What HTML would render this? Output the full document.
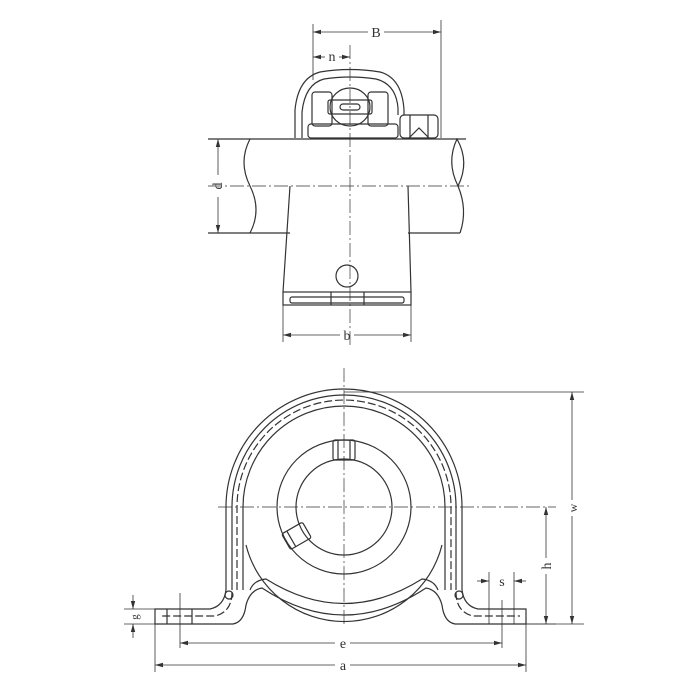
<!DOCTYPE html>
<html><head><meta charset="utf-8"><style>
html,body{margin:0;padding:0;background:#fff;}
svg{display:block;}
text{font-family:"Liberation Serif",serif;fill:#333;}
</style></head><body>
<svg width="700" height="700" viewBox="0 0 700 700" xmlns="http://www.w3.org/2000/svg">
<defs>
<marker id="a" markerWidth="8" markerHeight="6" refX="8" refY="3" orient="auto-start-reverse" markerUnits="userSpaceOnUse"><path d="M0,0.8 L8,3 L0,5.2 Z" fill="#333"/></marker>
</defs>
<g fill="none" stroke="#333" stroke-width="1.2">
<!-- TOP VIEW -->
<line x1="313" y1="24" x2="313" y2="80" stroke-width="0.8"/>
<line x1="441" y1="20" x2="441" y2="138" stroke-width="0.8"/>
<line x1="313" y1="32" x2="368" y2="32" stroke-width="0.8" marker-start="url(#a)"/>
<line x1="384" y1="32" x2="441" y2="32" stroke-width="0.8" marker-end="url(#a)"/>
<line x1="313" y1="57" x2="325" y2="57" stroke-width="0.8" marker-start="url(#a)"/>
<line x1="339" y1="57" x2="350" y2="57" stroke-width="0.8" marker-end="url(#a)"/>
<line x1="350" y1="45" x2="350" y2="345" stroke-width="0.7" stroke-dasharray="14,3,2,3"/>
<path d="M295,138 L295,110 Q298,78 320,72 Q350,67 380,72 Q402,78 404,110 L404,115"/>
<path d="M302,138 L302,112 Q305,84 324,79 Q350,75 376,79 Q396,84 398,108 L398,115"/>
<rect x="312" y="92" width="20" height="34" rx="3"/>
<rect x="368" y="92" width="20" height="34" rx="3"/>
<rect x="308" y="124" width="90" height="14" rx="3"/>
<ellipse cx="350" cy="107" rx="20" ry="19"/>
<rect x="328" y="100" width="44" height="14" rx="2"/>
<rect x="340" y="104" width="20" height="6" rx="3"/>
<rect x="400" y="115" width="38" height="23" rx="4"/>
<line x1="410" y1="115" x2="410" y2="138"/><line x1="428" y1="115" x2="428" y2="138"/>
<path d="M409,138 L419,128 L429,138"/>
<line x1="208" y1="139" x2="466" y2="139"/>
<line x1="208" y1="233" x2="290" y2="233"/>
<line x1="408" y1="233" x2="460" y2="233"/>
<path d="M250,139 Q238,162 250,186 Q262,210 250,233"/>
<path d="M457,139 Q470,162 458,186 Q446,162 457,139 Z"/>
<path d="M458,186 Q468,210 460,233"/>
<line x1="208" y1="186" x2="470" y2="186" stroke-width="0.7" stroke-dasharray="14,3,2,3"/>
<line x1="218" y1="139" x2="218" y2="175" stroke-width="0.8" marker-start="url(#a)"/>
<line x1="218" y1="197" x2="218" y2="233" stroke-width="0.8" marker-end="url(#a)"/>
<path d="M290,186 L283,292 M408,186 L411,292"/>
<rect x="283" y="292" width="128" height="13"/>
<rect x="290" y="297" width="114" height="6" rx="2"/>
<line x1="331" y1="292" x2="331" y2="305"/><line x1="364" y1="292" x2="364" y2="305"/>
<circle cx="347" cy="276" r="11"/>
<line x1="283" y1="305" x2="283" y2="342" stroke-width="0.8"/>
<line x1="411" y1="305" x2="411" y2="342" stroke-width="0.8"/>
<line x1="283" y1="335" x2="340" y2="335" stroke-width="0.8" marker-start="url(#a)"/>
<line x1="354" y1="335" x2="411" y2="335" stroke-width="0.8" marker-end="url(#a)"/>

<!-- BOTTOM VIEW -->
<line x1="344" y1="368" x2="344" y2="625" stroke-width="0.7" stroke-dasharray="14,3,2,3"/>
<line x1="218" y1="507" x2="556" y2="507" stroke-width="0.7" stroke-dasharray="14,3,2,3"/>
<path d="M226,590 L226,507 A118,118 0 0 1 462,507 L462,590"/>
<path d="M232,590 L232,507 A112,112 0 0 1 456,507 L456,590"/>
<path d="M237,590 L237,507 A107,107 0 0 1 451,507 L451,590" stroke-dasharray="8,3"/>
<path d="M243,590 L243,507 A101,101 0 0 1 445,507 L445,590"/>
<path d="M246,545 A101,101 0 0 0 442,545"/>
<circle cx="344" cy="507" r="67"/>
<circle cx="344" cy="507" r="48"/>
<rect x="333" y="440" width="22" height="20" rx="2"/>
<line x1="338" y1="440" x2="338" y2="460"/><line x1="350" y1="440" x2="350" y2="460"/>
<g transform="rotate(-30 296 535)"><rect x="284" y="527" width="24" height="18" rx="2"/><line x1="290" y1="527" x2="290" y2="545"/></g>
<path d="M226,590 Q224,606 210,609 L155,609 L155,624 L233,624 Q244,622 246,605 Q250,590 262,588 Q344,642 426,588 Q438,590 442,605 Q444,622 455,624 L526,624 L526,609 L478,609 Q464,606 462,590"/>
<path d="M232,592 Q232,612 215,616 L160,616" stroke-dasharray="8,3"/>
<path d="M456,592 Q456,612 473,616 L520,616" stroke-dasharray="8,3"/>
<path d="M250,590 Q254,580 266,579 Q344,628 422,579 Q434,580 438,590"/>
<circle cx="229" cy="595" r="4"/><circle cx="459" cy="595" r="4"/>
<line x1="180" y1="593" x2="180" y2="648" stroke-width="0.8"/>
<line x1="502" y1="600" x2="502" y2="648" stroke-width="0.8"/>
<line x1="167" y1="609" x2="167" y2="624"/><line x1="192" y1="609" x2="192" y2="624"/>
<line x1="489" y1="572" x2="489" y2="624" stroke-width="0.8"/>
<line x1="514" y1="572" x2="514" y2="624" stroke-width="0.8"/>
<line x1="477" y1="581" x2="489" y2="581" stroke-width="0.8" marker-end="url(#a)"/>
<line x1="526" y1="581" x2="514" y2="581" stroke-width="0.8" marker-end="url(#a)"/>
<line x1="526" y1="624" x2="556" y2="624" stroke-width="0.8"/>
<line x1="344" y1="392" x2="584" y2="392" stroke-width="0.8"/>
<line x1="526" y1="624" x2="584" y2="624" stroke-width="0.8"/>
<line x1="572" y1="392" x2="572" y2="500" stroke-width="0.8" marker-start="url(#a)"/>
<line x1="572" y1="516" x2="572" y2="624" stroke-width="0.8" marker-end="url(#a)"/>
<line x1="546" y1="507" x2="546" y2="558" stroke-width="0.8" marker-start="url(#a)"/>
<line x1="546" y1="574" x2="546" y2="624" stroke-width="0.8" marker-end="url(#a)"/>
<line x1="124" y1="609" x2="155" y2="609" stroke-width="0.8"/>
<line x1="124" y1="624" x2="155" y2="624" stroke-width="0.8"/>
<line x1="133" y1="595" x2="133" y2="609" stroke-width="0.8" marker-end="url(#a)"/>
<line x1="133" y1="638" x2="133" y2="624" stroke-width="0.8" marker-end="url(#a)"/>
<line x1="155" y1="624" x2="155" y2="672" stroke-width="0.8"/>
<line x1="526" y1="624" x2="526" y2="672" stroke-width="0.8"/>
<line x1="180" y1="643" x2="335" y2="643" stroke-width="0.8" marker-start="url(#a)"/>
<line x1="350" y1="643" x2="502" y2="643" stroke-width="0.8" marker-end="url(#a)"/>
<line x1="155" y1="665" x2="335" y2="665" stroke-width="0.8" marker-start="url(#a)"/>
<line x1="350" y1="665" x2="526" y2="665" stroke-width="0.8" marker-end="url(#a)"/>
</g>
<g font-size="14">
<text x="376" y="37" text-anchor="middle">B</text>
<text x="332" y="61" text-anchor="middle">n</text>
<text x="347" y="340" text-anchor="middle">b</text>
<text transform="translate(222,186) rotate(-90)" text-anchor="middle">d</text>
<text x="343" y="648" text-anchor="middle">e</text>
<text x="343" y="670" text-anchor="middle">a</text>
<text x="502" y="586" text-anchor="middle">s</text>
<text transform="translate(551,566) rotate(-90)" text-anchor="middle">h</text>
<text transform="translate(577,508) rotate(-90)" text-anchor="middle" font-size="12">w</text>
<text transform="translate(138,617) rotate(-90)" text-anchor="middle" font-size="11">g</text>
</g>
</svg>
</body></html>
